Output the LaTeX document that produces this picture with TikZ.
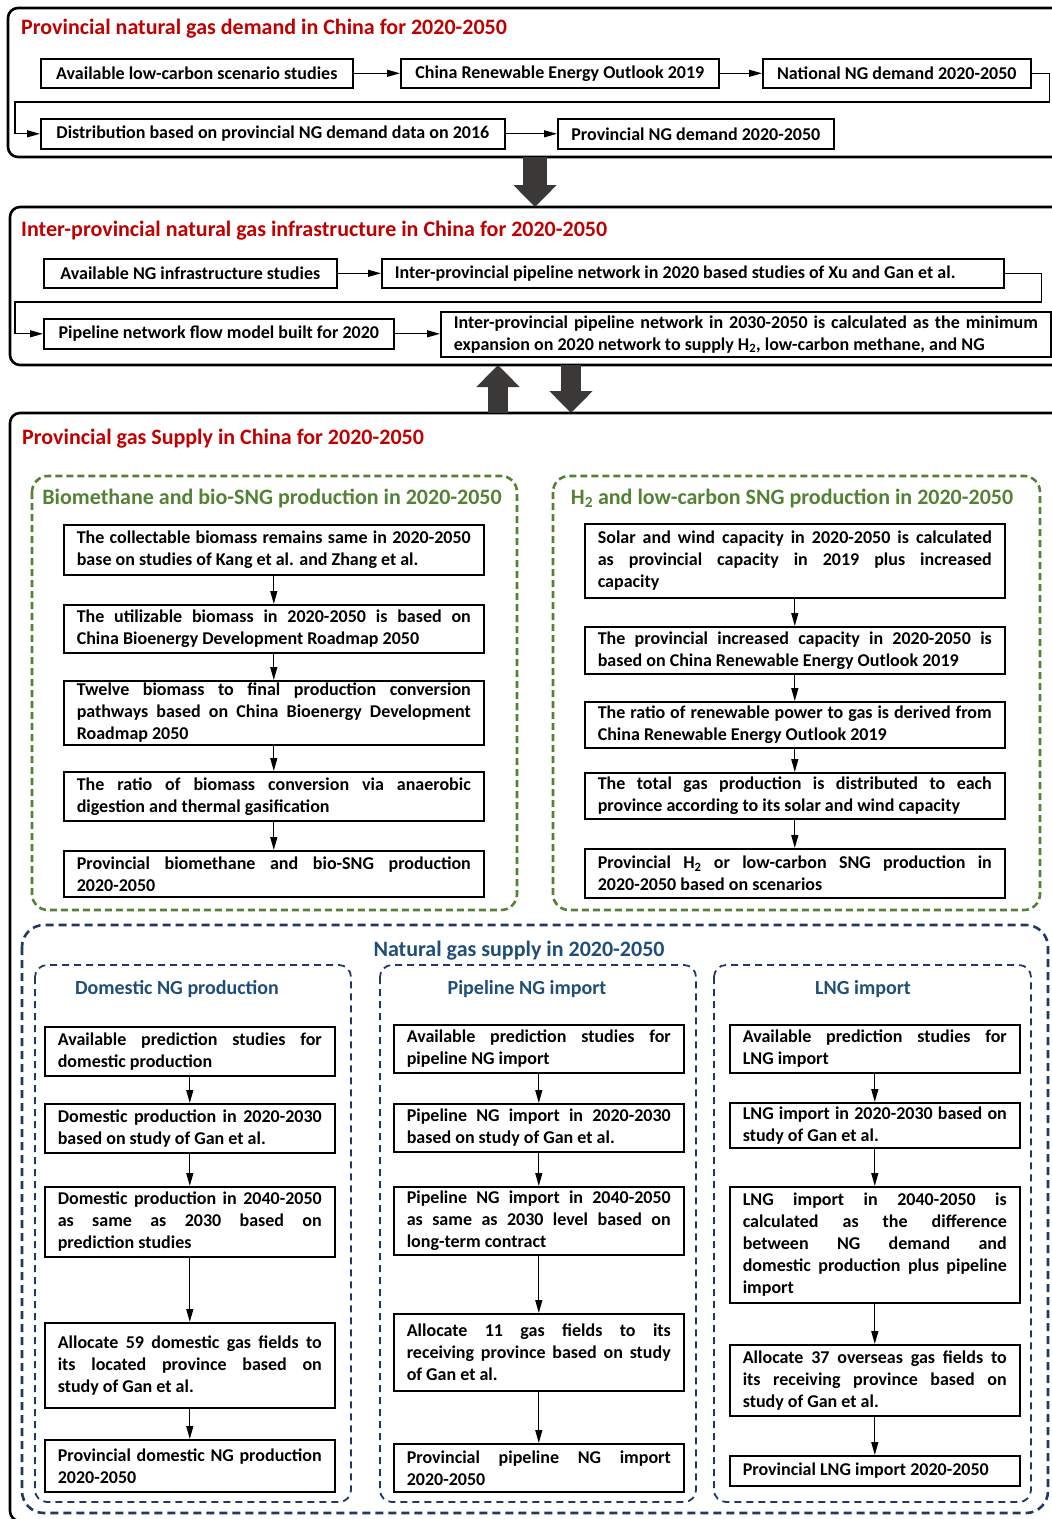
\documentclass[tikz,border=0pt]{standalone}
\usepackage{fontspec}
\setmainfont{Carlito}
\usetikzlibrary{arrows.meta}
\definecolor{titlered}{HTML}{C00000}
\definecolor{biogreen}{HTML}{548235}
\definecolor{ngblue}{HTML}{1F4E79}
\definecolor{ngdash}{HTML}{203864}
\definecolor{arrowgray}{HTML}{3B3838}
\hyphenpenalty=10000
\exhyphenpenalty=10000
\tolerance=10000
\setlength\parindent{0pt}
\begin{document}
\begin{tikzpicture}[x=1pt,y=-1pt,
  every node/.style={font=\fontsize{18}{22}\selectfont\bfseries, inner sep=0pt},
  onebox/.style={draw, line width=1.6pt, anchor=north west, minimum height=29pt},
  box/.style={draw, line width=1.6pt, anchor=north west, inner xsep=13pt, align=justify},
  redtitle/.style={anchor=base west, text=titlered, font=\fontsize{22}{26}\selectfont\bfseries},
  greentitle/.style={anchor=base, text=biogreen, font=\fontsize{22}{26}\selectfont\bfseries},
  bluetitle/.style={anchor=base, text=ngblue, font=\fontsize{22}{26}\selectfont\bfseries},
  subtitle/.style={anchor=base, text=ngblue, font=\fontsize{20}{24}\selectfont\bfseries},
  frame/.style={line width=2.6pt, rounded corners=10pt},
  greenframe/.style={draw=biogreen, line width=2.6pt, dash pattern=on 7pt off 4pt, rounded corners=16pt},
  blueframe/.style={draw=ngdash, line width=2.6pt, dash pattern=on 8pt off 5pt, rounded corners=22pt},
  colframe/.style={draw=ngdash, line width=1.8pt, dash pattern=on 7pt off 5pt, rounded corners=12pt},
  flow/.style={line width=1.3pt, -{Triangle[length=13pt,width=7pt]}},
  bigarrow/.style={draw=arrowgray, line width=20pt, -{Triangle[length=22pt,width=42pt]}}
]
\useasboundingbox (0,0) rectangle (1052,1519);
\clip (0,0) rectangle (1052,1519);

\draw[frame] (8,8) rectangle (1080,157);
\draw[frame] (10,207) rectangle (1080,365);
\draw[frame] (10,413) rectangle (1080,1521);

\node[redtitle] (demtitle) at (21,34.5) {Provincial natural gas demand in China for 2020-2050};
\node[onebox, minimum width=312pt] (avail) at (40,58) {Available low-carbon scenario studies};
\node[onebox, minimum width=318pt] (creo) at (400,58) {China Renewable Energy Outlook 2019};
\node[onebox, minimum width=268pt] (natdem) at (762,58) {National NG demand 2020-2050};
\node[onebox, minimum width=464pt, minimum height=30pt] (distr) at (40,118) {Distribution based on provincial NG demand data on 2016};
\node[onebox, minimum width=276pt, minimum height=30pt] (provdem) at (557,118) {Provincial NG demand 2020-2050};
\coordinate (bend1) at (15,102);
\draw[flow] (avail) -- (creo);
\draw[flow] (creo) -- (natdem);
\draw[flow] (natdem.east) -- ++(18,0) |- (bend1) |- (distr.west);
\draw[flow] (distr) -- (provdem);

\coordinate (out1) at (535,157);
\coordinate (in2) at (535,207);
\draw[bigarrow, line width=24pt] (out1) -- (in2);

\node[redtitle] (infratitle) at (21,236) {Inter-provincial natural gas infrastructure in China for 2020-2050};
\node[onebox, minimum width=293pt] (infra) at (43,258) {Available NG infrastructure studies};
\node[box, text width=596pt, minimum height=29pt] (pipe20) at (381,258) {Inter-provincial pipeline network in 2020 based studies of Xu and Gan et al.};
\node[onebox, minimum width=350pt, minimum height=30pt] (flowmod) at (43,318) {Pipeline network flow model built for 2020};
\node[box, text width=584pt, minimum height=45pt] (pipe50) at (440,311) {Inter-provincial pipeline network in 2030-2050 is calculated as the minimum \linebreak expansion on 2020 network to supply H\textsubscript{2}, low-carbon methane, and NG};
\coordinate (bend2) at (15,302);
\draw[flow] (infra) -- (pipe20);
\draw[flow] (pipe20.east) -- ++(37,0) |- (bend2) |- (flowmod.west);
\draw[flow] (flowmod.east) -- (flowmod.east -| pipe50.west);

\coordinate (out3) at (498,413);
\coordinate (in2b) at (498,365);
\coordinate (out2) at (571,365);
\coordinate (in3) at (571,413);
\draw[bigarrow] (out3) -- (in2b);
\draw[bigarrow] (out2) -- (in3);

\node[redtitle] (supptitle) at (22,444.5) {Provincial gas Supply in China for 2020-2050};

\draw[greenframe] (32,476) rectangle (517,910);
\node[greentitle] (biotitle) at (272,504) {Biomethane and bio-SNG production in 2020-2050};
\node[box, text width=394pt, minimum height=50pt] (bio1) at (63,524) {The collectable biomass remains same in 2020-2050 \linebreak base on studies of Kang et al. and Zhang et al.};
\node[box, text width=394pt, minimum height=48pt] (bio2) at (63,604) {The utilizable biomass in 2020-2050 is based on \linebreak China Bioenergy Development Roadmap 2050};
\node[box, text width=394pt, minimum height=64pt] (bio3) at (63,680) {Twelve biomass to final production conversion \linebreak pathways based on China Bioenergy Development \linebreak Roadmap 2050};
\node[box, text width=394pt, minimum height=49pt] (bio4) at (63,771) {The ratio of biomass conversion via anaerobic \linebreak digestion and thermal gasification};
\node[box, text width=394pt, minimum height=46pt] (bio5) at (63,850) {Provincial biomethane and bio-SNG production \linebreak 2020-2050};
\draw[flow] (bio1) -- (bio2);
\draw[flow] (bio2) -- (bio3);
\draw[flow] (bio3) -- (bio4);
\draw[flow] (bio4) -- (bio5);

\draw[greenframe] (553,476) rectangle (1040,910);
\node[greentitle] (h2title) at (792,504) {H\textsubscript{2} and low-carbon SNG production in 2020-2050};
\node[box, text width=394pt, minimum height=74pt] (htwo1) at (584,523) {Solar and wind capacity in 2020-2050 is calculated \linebreak as provincial capacity in 2019 plus increased \linebreak capacity};
\node[box, text width=394pt, minimum height=47pt] (htwo2) at (584,626) {The provincial increased capacity in 2020-2050 is \linebreak based on China Renewable Energy Outlook 2019};
\node[box, text width=394pt, minimum height=46pt] (htwo3) at (584,701) {The ratio of renewable power to gas is derived from \linebreak China Renewable Energy Outlook 2019};
\node[box, text width=394pt, minimum height=46pt] (htwo4) at (584,772) {The total gas production is distributed to each \linebreak province according to its solar and wind capacity};
\node[box, text width=394pt, minimum height=49pt] (htwo5) at (584,848) {Provincial H\textsubscript{2} or low-carbon SNG production in \linebreak 2020-2050 based on scenarios};
\draw[flow] (htwo1) -- (htwo2);
\draw[flow] (htwo2) -- (htwo3);
\draw[flow] (htwo3) -- (htwo4);
\draw[flow] (htwo4) -- (htwo5);

\draw[blueframe] (22,925) rectangle (1048,1513);
\node[bluetitle] (ngtitle) at (519,956.5) {Natural gas supply in 2020-2050};

\draw[colframe] (35,965) rectangle (351,1502);
\node[subtitle] (domtitle) at (177,994) {Domestic NG production};
\node[box, text width=264pt, minimum height=49pt] (dom1) at (44,1026) {Available prediction studies for \linebreak domestic production};
\node[box, text width=264pt, minimum height=49pt] (dom2) at (44,1103) {Domestic production in 2020-2030 \linebreak based on study of Gan et al.};
\node[box, text width=264pt, minimum height=70pt] (dom3) at (44,1186) {Domestic production in 2040-2050 \linebreak as same as 2030 based on \linebreak prediction studies};
\node[box, text width=264pt, minimum height=85pt] (dom4) at (44,1322) {Allocate 59 domestic gas fields to \linebreak its located province based on \linebreak study of Gan et al.};
\node[box, text width=264pt, minimum height=52pt] (dom5) at (44,1439) {Provincial domestic NG production \linebreak 2020-2050};
\draw[flow] (dom1) -- (dom2);
\draw[flow] (dom2) -- (dom3);
\draw[flow] (dom3) -- (dom4);
\draw[flow] (dom4) -- (dom5);

\draw[colframe] (380,965) rectangle (696,1502);
\node[subtitle] (piptitle) at (527,994) {Pipeline NG import};
\node[box, text width=264pt, minimum height=48pt] (pip1) at (393,1024) {Available prediction studies for \linebreak pipeline NG import};
\node[box, text width=264pt, minimum height=48pt] (pip2) at (393,1103) {Pipeline NG import in 2020-2030 \linebreak based on study of Gan et al.};
\node[box, text width=264pt, minimum height=68pt] (pip3) at (393,1186) {Pipeline NG import in 2040-2050 \linebreak as same as 2030 level based on \linebreak long-term contract};
\node[box, text width=264pt, minimum height=77pt] (pip4) at (393,1313) {Allocate 11 gas fields to its \linebreak receiving province based on study \linebreak of Gan et al.};
\node[box, text width=264pt, minimum height=48pt] (pip5) at (393,1443) {Provincial pipeline NG import \linebreak 2020-2050};
\draw[flow] (pip1) -- (pip2);
\draw[flow] (pip2) -- (pip3);
\draw[flow] (pip3) -- (pip4);
\draw[flow] (pip4) -- (pip5);

\draw[colframe] (714,965) rectangle (1031,1502);
\node[subtitle] (lngtitle) at (863,994) {LNG import};
\node[box, text width=264pt, minimum height=48pt] (lng1) at (729,1024) {Available prediction studies for \linebreak LNG import};
\node[box, text width=264pt, minimum height=45pt] (lng2) at (729,1102) {LNG import in 2020-2030 based on \linebreak study of Gan et al.};
\node[box, text width=264pt, minimum height=116pt] (lng3) at (729,1186) {LNG import in 2040-2050 is \linebreak calculated as the difference \linebreak between NG demand and \linebreak domestic production plus pipeline \linebreak import};
\node[box, text width=264pt, minimum height=71pt] (lng4) at (729,1344) {Allocate 37 overseas gas fields to \linebreak its receiving province based on \linebreak study of Gan et al.};
\node[box, text width=264pt, minimum height=30pt] (lng5) at (729,1455) {Provincial LNG import 2020-2050};
\draw[flow] (lng1) -- (lng2);
\draw[flow] (lng2) -- (lng3);
\draw[flow] (lng3) -- (lng4);
\draw[flow] (lng4) -- (lng5);
\end{tikzpicture}
\end{document}
